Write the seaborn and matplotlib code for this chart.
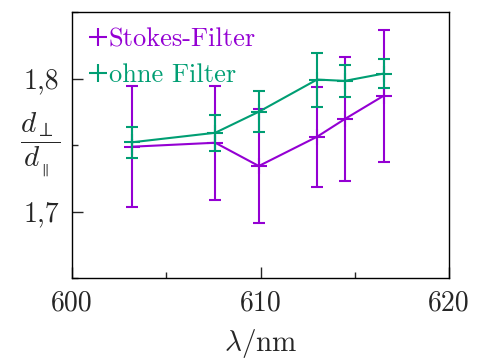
import matplotlib
matplotlib.use("Agg")
import matplotlib.pyplot as plt
import seaborn as sns
import pandas as pd
from matplotlib.lines import Line2D

wavelength = [603.16, 607.6, 609.91, 613.0, 614.47, 616.53]
stokes_y = [1.7487, 1.7517, 1.7342, 1.7562, 1.7695, 1.7870]
stokes_err = [0.0455, 0.0430, 0.0430, 0.0375, 0.0465, 0.0497]
ohne_y = [1.7520, 1.7592, 1.7750, 1.7992, 1.7982, 1.8037]
ohne_err = [0.0115, 0.0134, 0.0156, 0.0203, 0.0122, 0.0107]
series_names = ["Stokes-Filter", "ohne Filter"]
xticks = [600, 610, 620]
xtick_labels = ["600", "610", "620"]
yticks = [1.7, 1.8]
ytick_labels = ["1,7", "1,8"]

colors = ["#9400D3", "#009E73"]

sns.set_style("ticks")
plt.rcParams["font.family"] = "serif"
plt.rcParams["font.serif"] = ["cmr10", "DejaVu Serif"]
plt.rcParams["mathtext.fontset"] = "cm"
plt.rcParams["axes.unicode_minus"] = False

fig = plt.figure(figsize=(4.9, 3.6), dpi=100)
ax = fig.add_axes([72 / 490, 1 - 278 / 360, (449 - 72) / 490, (278 - 12) / 360])

for name, yv, ev, c in [(series_names[0], stokes_y, stokes_err, colors[0]),
                        (series_names[1], ohne_y, ohne_err, colors[1])]:
    d = pd.DataFrame({"x": wavelength, "y": yv})
    sns.lineplot(data=d, x="x", y="y", color=c, ax=ax, marker="+",
                 markersize=12, markeredgewidth=1.5, markeredgecolor=c,
                 linewidth=1.5, sort=False)
    ax.errorbar(wavelength, yv, yerr=ev, fmt="none", ecolor=c, elinewidth=1.5,
                capsize=4.5, capthick=1.5)

ax.set_xlim(600, 620)
ax.set_ylim(1.65, 1.85)
ax.set_xticks(xticks)
ax.set_xticklabels(xtick_labels)
ax.set_xticks([605, 615], minor=True)
ax.set_yticks(yticks)
ax.set_yticklabels(ytick_labels)
ax.set_yticks([1.65, 1.75, 1.85], minor=True)
ax.tick_params(which="major", direction="in", length=8, width=1, labelsize=20,
               top=False, right=False, pad=9)
ax.tick_params(which="minor", direction="in", length=4, width=1, top=False, right=False)
for s in ax.spines.values():
    s.set_linewidth(1)
    s.set_color("black")

ax.set_xlabel(r"$\lambda$/nm", fontsize=21, labelpad=7)
ax.set_ylabel(r"$\dfrac{d_\perp}{d_{_\parallel}}$", fontsize=21, rotation=0,
              labelpad=0, va="center")
ax.yaxis.set_label_coords(-0.085, 0.5)

handles = [Line2D([], [], color=c, marker="+", linestyle="none", markersize=12.5,
                  markeredgewidth=1.5) for c in colors]
leg = ax.legend(handles, series_names, loc="upper left", frameon=False,
                fontsize=19, handlelength=0.6, handletextpad=0.12,
                bbox_to_anchor=(0.03, 0.966), borderaxespad=0.0,
                labelspacing=0.45, borderpad=0.25)
for t, c in zip(leg.get_texts(), colors):
    t.set_color(c)

fig.savefig("out.png", dpi=100)
